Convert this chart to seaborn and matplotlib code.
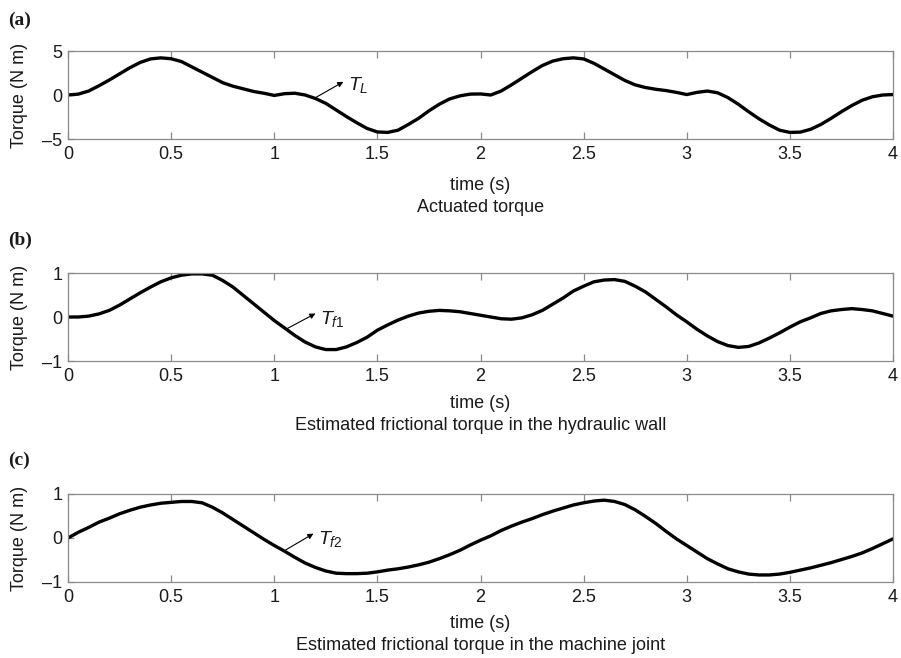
import matplotlib
matplotlib.use("Agg")
import matplotlib.pyplot as plt
import seaborn as sns

time_s = [0.00, 0.05, 0.10, 0.15, 0.20, 0.25, 0.30, 0.35, 0.40, 0.45,
          0.50, 0.55, 0.60, 0.65, 0.70, 0.75, 0.80, 0.85, 0.90, 0.95,
          1.00, 1.05, 1.10, 1.15, 1.20, 1.25, 1.30, 1.35, 1.40, 1.45,
          1.50, 1.55, 1.60, 1.65, 1.70, 1.75, 1.80, 1.85, 1.90, 1.95,
          2.00, 2.05, 2.10, 2.15, 2.20, 2.25, 2.30, 2.35, 2.40, 2.45,
          2.50, 2.55, 2.60, 2.65, 2.70, 2.75, 2.80, 2.85, 2.90, 2.95,
          3.00, 3.05, 3.10, 3.15, 3.20, 3.25, 3.30, 3.35, 3.40, 3.45,
          3.50, 3.55, 3.60, 3.65, 3.70, 3.75, 3.80, 3.85, 3.90, 3.95, 4.00]

torque_L = [0.0, 0.1, 0.45, 1.05, 1.7, 2.4, 3.1, 3.7, 4.1, 4.22,
            4.12, 3.8, 3.2, 2.6, 2.0, 1.4, 1.0, 0.7, 0.4, 0.2,
            -0.05, 0.15, 0.2, 0.0, -0.4, -0.95, -1.7, -2.45, -3.15, -3.8,
            -4.2, -4.25, -4.0, -3.35, -2.65, -1.8, -1.05, -0.45, -0.1, 0.1,
            0.12, 0.0, 0.45, 1.15, 1.9, 2.65, 3.35, 3.85, 4.12, 4.22,
            4.1, 3.6, 2.95, 2.3, 1.65, 1.15, 0.85, 0.65, 0.5, 0.3,
            0.05, 0.3, 0.45, 0.25, -0.3, -1.05, -1.9, -2.7, -3.4, -4.0,
            -4.25, -4.22, -3.9, -3.35, -2.65, -1.9, -1.2, -0.6, -0.2, 0.0, 0.05]

torque_f1 = [0.0, 0.0, 0.02, 0.07, 0.15, 0.27, 0.41, 0.55, 0.68, 0.8,
             0.89, 0.95, 0.98, 0.98, 0.95, 0.83, 0.68, 0.49, 0.3, 0.11,
             -0.08, -0.25, -0.42, -0.57, -0.68, -0.74, -0.74, -0.68, -0.58, -0.46,
             -0.3, -0.18, -0.07, 0.02, 0.09, 0.13, 0.15, 0.14, 0.12, 0.08,
             0.04, 0.0, -0.04, -0.05, -0.02, 0.05, 0.15, 0.29, 0.43, 0.59,
             0.7, 0.8, 0.84, 0.85, 0.81, 0.7, 0.57, 0.4, 0.23, 0.05,
             -0.11, -0.28, -0.43, -0.56, -0.65, -0.69, -0.67, -0.59, -0.48, -0.36,
             -0.23, -0.11, -0.02, 0.08, 0.14, 0.17, 0.19, 0.17, 0.14, 0.08, 0.02]

torque_f2 = [0.0, 0.13, 0.24, 0.36, 0.45, 0.55, 0.63, 0.7, 0.75, 0.79,
             0.81, 0.83, 0.83, 0.8, 0.7, 0.57, 0.42, 0.27, 0.12, -0.03,
             -0.17, -0.3, -0.44, -0.57, -0.67, -0.75, -0.8, -0.81, -0.81, -0.8,
             -0.77, -0.73, -0.7, -0.66, -0.61, -0.55, -0.47, -0.38, -0.28, -0.16,
             -0.05, 0.05, 0.17, 0.27, 0.36, 0.44, 0.53, 0.61, 0.68, 0.75,
             0.8, 0.84, 0.86, 0.83, 0.76, 0.64, 0.49, 0.33, 0.15, -0.02,
             -0.17, -0.32, -0.47, -0.59, -0.7, -0.77, -0.82, -0.84, -0.84, -0.82,
             -0.78, -0.73, -0.68, -0.62, -0.56, -0.49, -0.42, -0.34, -0.24, -0.13, -0.02]

panel_tags = ["(a)", "(b)", "(c)"]
subtitles = ["Actuated torque",
             "Estimated frictional torque in the hydraulic wall",
             "Estimated frictional torque in the machine joint"]
curve_labels = [r"$T_L$", r"$T_{f1}$", r"$T_{f2}$"]
x_ticks = [0, 0.5, 1, 1.5, 2, 2.5, 3, 3.5, 4]
x_tick_labels = ["0", "0.5", "1", "1.5", "2", "2.5", "3", "3.5", "4"]
y_ticks = [[-5, 0, 5], [-1, 0, 1], [-1, 0, 1]]
# arrow tail (on curve), arrow head, text anchor
arrows = [((1.2, -0.3), (1.335, 1.5), (1.36, 1.1)),
          ((1.06, -0.27), (1.2, 0.08), (1.22, -0.04)),
          ((1.056, -0.27), (1.19, 0.1), (1.21, -0.02))]

sns.set_style("white")
plt.rcParams["font.family"] = ["Liberation Sans", "DejaVu Sans"]
plt.rcParams["mathtext.fontset"] = "custom"
plt.rcParams["mathtext.it"] = "Liberation Sans:italic"
plt.rcParams["mathtext.rm"] = "Liberation Sans"

fig = plt.figure(figsize=(9.01, 6.58), dpi=100)
W, H = 901.0, 658.0
left, right = 68, 893
tops = [51, 273, 494]
bottoms = [139, 361, 582]
xlab_y = [185, 404, 624]
sub_y = [207, 426, 646]
tag_y = [20, 240, 460]

series = [torque_L, torque_f1, torque_f2]
txt_color = "#1a1a1a"
frame_color = "#8a8a8a"

for i, vv in enumerate(series):
    ax = fig.add_axes([left / W, 1 - bottoms[i] / H, (right - left) / W, (bottoms[i] - tops[i]) / H])
    sns.lineplot(x=time_s, y=vv, ax=ax, color="black", linewidth=2.4)
    ax.set_xlim(0, 4)
    ax.set_ylim(y_ticks[i][0], y_ticks[i][-1])
    ax.set_xticks(x_ticks)
    ax.set_xticklabels(x_tick_labels)
    ax.set_yticks(y_ticks[i])
    ax.set_yticklabels([str(v).replace("-", "\u2013") for v in y_ticks[i]])
    for sp in ax.spines.values():
        sp.set_color(frame_color)
        sp.set_linewidth(0.9)
    ax.tick_params(axis="x", direction="in", top=True, bottom=True, length=5, width=0.9,
                   color=frame_color, labelsize=13, labelcolor=txt_color, pad=5)
    ax.tick_params(axis="y", direction="in", left=True, length=4, width=0.9,
                   color=frame_color, labelsize=13, labelcolor=txt_color, pad=4)
    ax.set_ylabel("Torque (N m)", fontsize=13, color=txt_color, labelpad=2)
    ax.yaxis.set_label_coords((28 - left) / (right - left), 0.5)
    ax.set_xlabel("")

    tail, head, tpos = arrows[i]
    ax.annotate("", xy=head, xytext=tail,
                arrowprops=dict(arrowstyle="-|>", color="black", lw=0.8,
                                mutation_scale=8, shrinkA=0, shrinkB=0))
    ax.text(tpos[0], tpos[1], curve_labels[i], fontsize=14, color=txt_color,
            ha="left", va="center")

    cx = (left + right) / 2 / W
    fig.text(cx, 1 - xlab_y[i] / H, "time (s)", fontsize=13, color=txt_color,
             ha="center", va="center")
    fig.text(cx, 1 - sub_y[i] / H, subtitles[i], fontsize=13, color=txt_color,
             ha="center", va="center")
    fig.text(8 / W, 1 - tag_y[i] / H, panel_tags[i], fontsize=14, fontweight="bold",
             family=["Liberation Serif", "DejaVu Serif"], color=txt_color,
             ha="left", va="center")

fig.savefig("out.png", dpi=100)
